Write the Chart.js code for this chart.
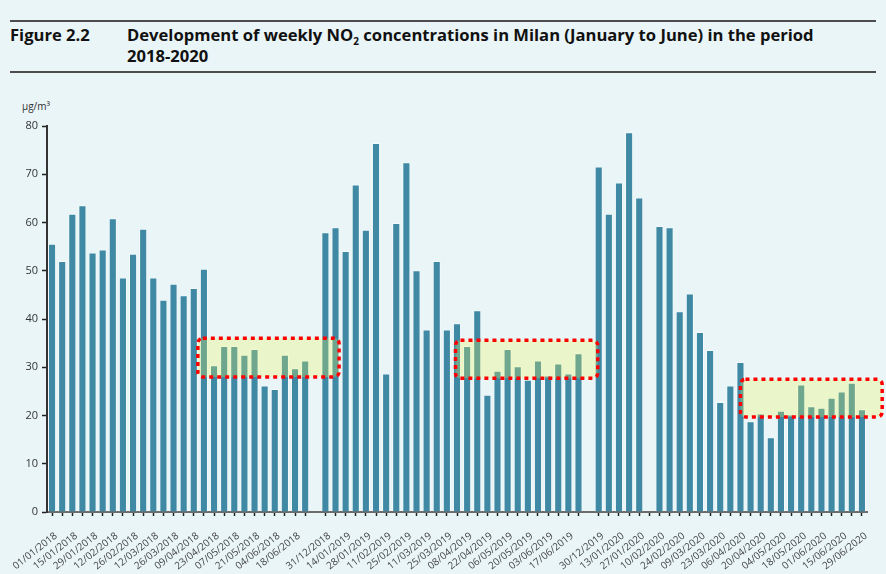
<!DOCTYPE html>
<html>
<head>
<meta charset="utf-8">
<script src="https://cdn.jsdelivr.net/npm/chart.js@4.4.0/dist/chart.umd.min.js"></script>
<style>
  body { margin: 0; background: #e9f5f7; width: 886px; height: 574px; overflow: hidden; position: relative; font-family: "Open Sans", sans-serif; }
  .rule { position: absolute; left: 10px; width: 866px; height: 2px; background: #4d4d4d; }
  .fig { position: absolute; left: 10px; top: 24px; font-weight: 700; font-size: 16.6px; line-height: 21px; color: #111; }
  .title { position: absolute; left: 127px; top: 24px; font-weight: 700; font-size: 16.6px; line-height: 21px; color: #111; }
  .title sub { font-size: 10px; line-height: 0; }
  .unit { position: absolute; left: 22px; top: 99px; font-size: 10px; color: #333; }
  #chart { position: absolute; left: 0; top: 0; }
</style>
</head>
<body>
<div class="rule" style="top:20px"></div>
<div class="fig">Figure 2.2</div>
<div class="title">Development of weekly NO<sub>2</sub> concentrations in Milan (January to June) in the period<br>2018-2020</div>
<div class="rule" style="top:71px"></div>
<div class="unit">µg/m³</div>
<canvas id="chart" width="886" height="574"></canvas>
<script>
// Weekly dates (Monday of each week), one list per year
const weeks2018 = ['01/01/2018', '08/01/2018', '15/01/2018', '22/01/2018', '29/01/2018', '05/02/2018', '12/02/2018',
    '19/02/2018', '26/02/2018', '05/03/2018', '12/03/2018', '19/03/2018', '26/03/2018', '02/04/2018', '09/04/2018',
    '16/04/2018', '23/04/2018', '30/04/2018', '07/05/2018', '14/05/2018', '21/05/2018', '28/05/2018', '04/06/2018',
    '11/06/2018', '18/06/2018', '25/06/2018'];
const weeks2019 = ['31/12/2018', '07/01/2019', '14/01/2019', '21/01/2019', '28/01/2019', '04/02/2019', '11/02/2019',
    '18/02/2019', '25/02/2019', '04/03/2019', '11/03/2019', '18/03/2019', '25/03/2019', '01/04/2019', '08/04/2019',
    '15/04/2019', '22/04/2019', '29/04/2019', '06/05/2019', '13/05/2019', '20/05/2019', '27/05/2019', '03/06/2019',
    '10/06/2019', '17/06/2019', '24/06/2019'];
const weeks2020 = ['30/12/2019', '06/01/2020', '13/01/2020', '20/01/2020', '27/01/2020', '03/02/2020', '10/02/2020',
    '17/02/2020', '24/02/2020', '02/03/2020', '09/03/2020', '16/03/2020', '23/03/2020', '30/03/2020', '06/04/2020',
    '13/04/2020', '20/04/2020', '27/04/2020', '04/05/2020', '11/05/2020', '18/05/2020', '25/05/2020', '01/06/2020',
    '08/06/2020', '15/06/2020', '22/06/2020', '29/06/2020'];

// Weekly NO2 concentrations in µg/m3 (null = no data)
const no2_2018 = [55.6, 52.0, 61.8, 63.6, 53.8, 54.4, 60.9, 48.6, 53.5, 58.7, 48.6, 44.0, 47.3,
    44.9, 46.4, 50.4, 30.4, 34.4, 34.4, 32.6, 33.8, 26.2, 25.5, 32.6, 29.8, 31.4];
const no2_2019 = [58.0, 59.0, 54.1, 67.9, 58.5, 76.5, 28.7, 59.9, 72.5, 50.1, 37.8, 52.0, 37.8,
    39.1, 34.4, 41.8, 24.3, 29.3, 33.8, 30.2, 27.4, 31.4, 28.3, 30.8, 28.7, 32.9];
const no2_2020 = [71.6, 61.8, 68.3, 78.7, 65.2, null, 59.3, 59.0, 41.6, 45.3, 37.3, 33.6, 22.8,
    26.2, 31.1, 18.8, 20.4, 15.5, 21.0, 20.2, 26.4, 21.9, 21.6, 23.7, 25.0, 26.8, 21.3];

// Only every second week gets a tick label
const shownLabels = new Set([weeks2018, weeks2019, weeks2020].flatMap(w => w.filter((d, i) => i % 2 === 0)));

// One empty slot separates the years
const labels = [...weeks2018, '', ...weeks2019, '', ...weeks2020];
const values = [...no2_2018, null, ...no2_2019, null, ...no2_2020];

// Dotted highlight boxes, in category index / value units
const highlightBoxes = [
    { from: 14.4, to: 28.35, low: 28.0, high: 36.0 },
    { from: 39.85, to: 53.9, low: 27.7, high: 35.6 },
    { from: 68.0, to: 82.0, low: 19.7, high: 27.5 }
];

const boxPlugin = {
    id: 'highlightBoxes',
    afterDatasetsDraw(chart) {
        const { ctx, scales: { x, y } } = chart;
        ctx.save();
        highlightBoxes.forEach(b => {
            const left = x.getPixelForValue(b.from);
            const right = x.getPixelForValue(b.to);
            const top = y.getPixelForValue(b.high);
            const bottom = y.getPixelForValue(b.low);
            ctx.beginPath();
            ctx.roundRect(left, top, right - left, bottom - top, 5);
            ctx.fillStyle = 'rgba(238, 248, 80, 0.27)';
            ctx.fill();
            ctx.setLineDash([4, 4]);
            ctx.lineWidth = 3.5;
            ctx.strokeStyle = '#ff0000';
            ctx.stroke();
        });
        ctx.restore();
    }
};

new Chart(document.getElementById('chart'), {
    type: 'bar',
    data: {
        labels: labels,
        datasets: [{
            data: values,
            backgroundColor: '#3f89a4',
            borderColor: 'rgba(255, 255, 255, 0.5)',
            borderWidth: 1,
            barPercentage: 0.8,
            categoryPercentage: 1
        }]
    },
    options: {
        responsive: false,
        animation: false,
        layout: { padding: { top: 126, right: 19, left: 0, bottom: 0 } },
        plugins: { legend: { display: false }, tooltip: { enabled: false } },
        scales: {
            x: {
                // fixed axis height; labels may overhang on the left
                afterFit(scale) {
                    scale.height = 62;
                    scale.paddingLeft = 0;
                    scale.paddingRight = 0;
                },
                grid: {
                    offset: false,
                    drawOnChartArea: false,
                    tickLength: 4,
                    tickWidth: 1.5,
                    tickColor: ctx => labels[ctx.index] ? '#222' : 'rgba(0,0,0,0)'
                },
                border: { color: '#6b6b6b', width: 2 },
                ticks: {
                    autoSkip: false,
                    minRotation: 38,
                    maxRotation: 38,
                    padding: 14,
                    labelOffset: 4,
                    color: '#444',
                    font: { family: 'Open Sans', size: 10 },
                    callback(value) {
                        const lab = this.getLabelForValue(value);
                        return shownLabels.has(lab) ? lab : '';
                    }
                }
            },
            y: {
                min: 0,
                max: 80,
                afterFit(scale) { scale.width = 47; },
                grid: { drawOnChartArea: false, tickLength: 5, tickWidth: 1.5, tickColor: '#222' },
                border: { color: '#333', width: 2 },
                ticks: {
                    stepSize: 10,
                    padding: 4,
                    color: '#333',
                    font: { family: 'Open Sans', size: 11 }
                }
            }
        }
    },
    plugins: [boxPlugin]
});
</script>
</body>
</html>
